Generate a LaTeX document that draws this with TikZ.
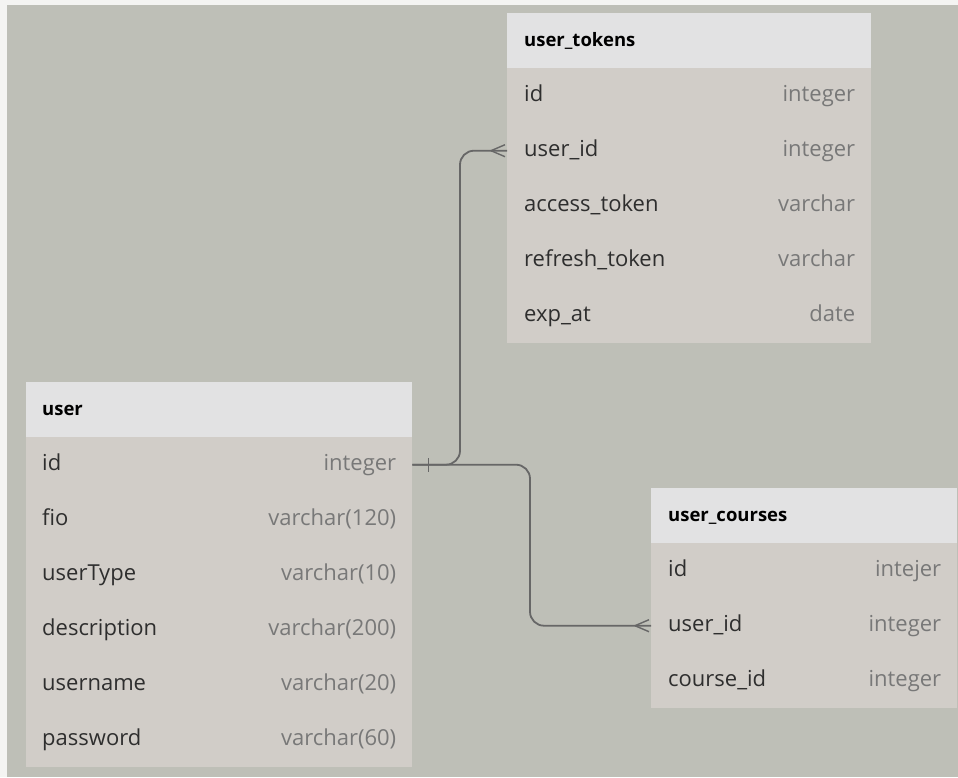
\documentclass[tikz,border=0pt]{standalone}
\usepackage{fontspec}
\setmainfont{Open Sans}
\usetikzlibrary{positioning}
\definecolor{bg}{HTML}{BEBFB7}
\definecolor{edge}{HTML}{F4F4F2}
\definecolor{hdr}{HTML}{E2E2E3}
\definecolor{body}{HTML}{D1CDC8}
\definecolor{nm}{HTML}{2E2E2E}
\definecolor{ty}{HTML}{787878}
\definecolor{ln}{HTML}{676767}
\tikzset{
  hdrbox/.style={draw=none,fill=hdr,minimum height=55pt,anchor=north west,inner sep=0pt},
  rowbox/.style={draw=none,fill=body,minimum height=55pt,anchor=north west,inner sep=0pt},
  ttl/.style={anchor=west,font=\fontsize{18.5}{22}\selectfont\bfseries,text=black,inner sep=0pt,text height=15pt,text depth=4pt},
  fname/.style={anchor=west,font=\fontsize{22}{26}\selectfont,text=nm,inner sep=0pt,text height=17pt,text depth=5pt},
  ftype/.style={anchor=east,font=\fontsize{22}{26}\selectfont,text=ty,inner sep=0pt,text height=17pt,text depth=5pt},
  rel/.style={draw=ln,line width=1.8pt,rounded corners=14pt},
  mk/.style={draw=ln,line width=1.4pt}
}
\begin{document}
\begin{tikzpicture}[x=1pt,y=-1pt]
\useasboundingbox (0,0) rectangle (958,777);
\fill[edge] (0,0) rectangle (958,777);
\fill[bg] (7,5) rectangle (958,777);
% user_tokens
\node[hdrbox,minimum width=364pt] (ut) at (507,13) {};
\node[ttl] (ut-t) at (524,40.5) {user\_tokens};
\foreach \n/\f/\t [count=\i from 0] in {id/id/integer,uid/user\_id/integer,at/access\_token/varchar,rt/refresh\_token/varchar,exp/exp\_at/date}{
  \node[rowbox,minimum width=364pt] (ut-\n) at (507,68+55*\i) {};
  \node[fname] (ut-\n-f) at ([xshift=17pt]ut-\n.west) {\f};
  \node[ftype] (ut-\n-t) at ([xshift=-16pt]ut-\n.east) {\t};
}
% user
\node[hdrbox,minimum width=386pt] (u) at (26,382) {};
\node[ttl] (u-t) at (42,409.5) {user};
\foreach \n/\f/\t [count=\i from 0] in {id/id/integer,fio/fio/varchar(120),ut/userType/varchar(10),de/description/varchar(200),un/username/varchar(20),pw/password/varchar(60)}{
  \node[rowbox,minimum width=386pt] (u-\n) at (26,437+55*\i) {};
  \node[fname] (u-\n-f) at ([xshift=16pt]u-\n.west) {\f};
  \node[ftype] (u-\n-t) at ([xshift=-16pt]u-\n.east) {\t};
}
% user_courses
\node[hdrbox,minimum width=306pt] (uc) at (651,488) {};
\node[ttl] (uc-t) at (668,515.5) {user\_courses};
\foreach \n/\f/\t [count=\i from 0] in {id/id/intejer,uid/user\_id/integer,cid/course\_id/integer}{
  \node[rowbox,minimum width=306pt] (uc-\n) at (651,543+55*\i) {};
  \node[fname] (uc-\n-f) at ([xshift=17pt]uc-\n.west) {\f};
  \node[ftype] (uc-\n-t) at ([xshift=-16pt]uc-\n.east) {\t};
}
% relations
\draw[rel] (u-id.east) -| ([xshift=-47pt]ut-uid.west) -- (ut-uid.west);
\draw[rel] (u-id.east) -| ([xshift=-121pt]uc-uid.west) -- (uc-uid.west);
% one marker
\draw[mk] ([xshift=16pt,yshift=-7pt]u-id.east) -- ([xshift=16pt,yshift=7pt]u-id.east);
% crow's feet
\foreach \tg in {ut-uid,uc-uid}{
  \draw[mk] ([xshift=-16pt]\tg.west) -- ([xshift=-2pt,yshift=-6pt]\tg.west);
  \draw[mk] ([xshift=-16pt]\tg.west) -- ([xshift=-2pt,yshift=6pt]\tg.west);
}
\end{tikzpicture}
\end{document}
